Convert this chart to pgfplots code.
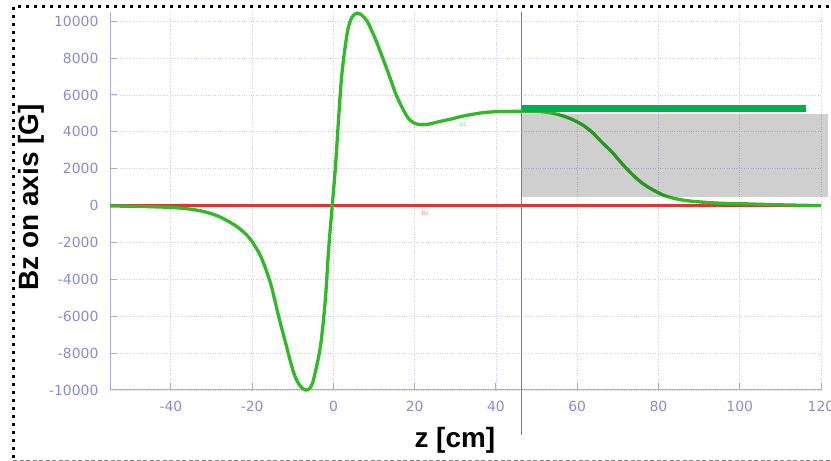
\documentclass[border=0pt]{standalone}
\usepackage{fontspec}
\setmainfont{Liberation Sans}
\newfontfamily\dejavu{DejaVu Sans}
\usepackage{pgfplots}
\pgfplotsset{compat=1.18}

\definecolor{tickcol}{RGB}{140,140,205}
\definecolor{gridcol}{RGB}{205,205,238}
\definecolor{axiscol}{RGB}{170,170,222}
\definecolor{bzgreen}{RGB}{50,185,40}
\definecolor{bzred}{RGB}{230,50,50}
\definecolor{bargreen}{RGB}{0,176,80}
\definecolor{vblue}{RGB}{90,130,205}

\begin{document}
\begin{tikzpicture}
\path[use as bounding box] (0,0) rectangle (831bp,461bp);
\begin{axis}[
    at={(110bp,71bp)}, anchor=south west,
    scale only axis, width=711bp, height=378bp,
    xmin=-55, xmax=120, ymin=-10000, ymax=10500,
    xtick={-40,-20,0,20,40,60,80,100,120},
    ytick={-10000,-8000,-6000,-4000,-2000,0,2000,4000,6000,8000,10000},
    axis x line*=bottom, axis y line*=left,
    axis line style={axiscol, line width=1bp, -},
    tick style={axiscol, line width=1bp},
    major tick length=7bp,
    tick align=inside,
    grid=major,
    major grid style={gridcol, dotted, line width=0.9bp},
    scaled ticks=false,
    /pgf/number format/assume math mode=true,
    /pgf/number format/1000 sep={},
    tick label style={font=\dejavu\fontsize{14}{16}\selectfont, text=tickcol},
    yticklabel style={xshift=-8bp},
    xticklabel style={yshift=-8bp},
    xlabel={\bfseries z [cm]},
    ylabel={\bfseries Bz on axis [G]},
    label style={font=\fontsize{28}{30}\selectfont},
    xlabel style={at={(axis description cs:0.485,-0.132)}, anchor=center},
    ylabel style={at={(axis description cs:-0.111,0.51)}, anchor=center},
    clip=false,
]
% zero line
\addplot[bzred, line width=2.6bp] coordinates {(-55,0) (120,0)};
% Bz on axis
\addplot[bzgreen, line width=3.3bp, smooth, tension=0.5] coordinates {
(-55,-20) (-50,-35) (-45,-60) (-40,-100) (-36,-170) (-32.6,-290) (-30,-440)
(-27.7,-640) (-24.5,-1030) (-22.3,-1400) (-20.4,-1840) (-17.9,-2750) (-15.5,-4200)
(-13.5,-6000) (-11.8,-7430) (-9.8,-9060) (-8.3,-9750) (-6.9,-10000) (-5.8,-9900)
(-4.9,-9430) (-3.2,-7630) (-2.0,-5100) (-1.2,-2400) (-0.3,0) (0.5,2130) (1.3,4840)
(2.1,7200) (3.4,9370) (4.5,10200) (5.8,10440) (7,10320) (8.3,10000) (9.5,9450)
(10.7,8830) (13.2,7370) (15.6,5920) (18.1,4840) (19.7,4500) (21.3,4390) (23.5,4420)
(26.3,4570) (28.7,4680) (32,4860) (36.8,5040) (41,5100) (46.3,5110) (50,5100)
(53.3,5040) (56,4900) (58.9,4660) (61.5,4350) (63.8,3950) (66,3450) (68.7,2870)
(71,2280) (73.6,1680) (76,1220) (78.5,870) (82,500) (86.9,270) (94.2,140)
(102.3,90) (110.4,40) (120,0)
};
% shaded region
\addplot[draw=none, fill=black, fill opacity=0.19] coordinates {
(46.3,488) (121.6,488) (121.6,4986) (46.3,4986)} -- cycle;
% thick bar
\addplot[bargreen, line width=7.5bp] coordinates {(46.3,5257) (116.4,5257)};
% vertical marker
\addplot[vblue, line width=1.1bp] coordinates {(46.3,10500) (46.3,-12420)};
\node[font=\fontsize{6}{7}\selectfont, text=bzred!55] at (axis cs:22.6,-434) {Bz};
\node[font=\fontsize{6}{7}\selectfont, text=bzgreen!55, rotate=15] at (axis cs:31.9,4390) {Bz};
\end{axis}
\draw[line width=3.2bp, dash pattern=on 3.2bp off 4.8bp] (13.3bp,3bp) -- (13.3bp,454.5bp) -- (831bp,454.5bp);
\draw[gray, line width=0.8bp, dash pattern=on 4bp off 2.5bp] (13.3bp,1bp) -- (831bp,1bp);
\end{tikzpicture}
\end{document}
